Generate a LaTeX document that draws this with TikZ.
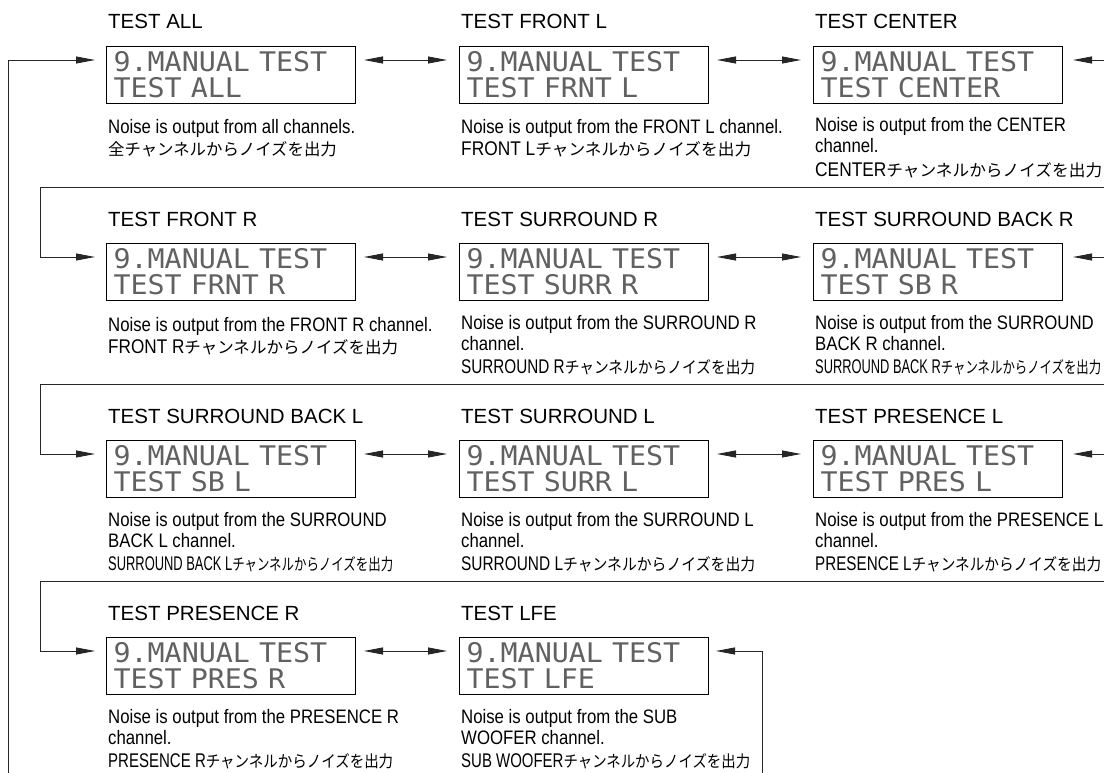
\documentclass[tikz,border=0pt]{standalone}
\usepackage{fontspec}
\usepackage{graphicx}
\setmainfont{Liberation Sans}
\newfontfamily\descfont[FakeStretch=0.86]{Liberation Sans}
\newfontfamily\lcdfont[FakeStretch=1.05]{DejaVu Sans Mono}
\newfontfamily\jpfont{Noto Sans CJK JP}
\usetikzlibrary{arrows.meta,calc}

\tikzset{
  lcdbox/.style={draw=black, line width=1pt, anchor=north west, minimum width=249pt,
    minimum height=57pt, inner xsep=7pt, inner ysep=0pt, align=left, text width=235pt,
    font=\fontsize{27}{26}\lcdfont, text=black!62},
  ttl/.style={anchor=base west, inner sep=0pt, font=\fontsize{20.5}{21}\selectfont},
  dsc/.style={anchor=base west, inner sep=0pt, font=\fontsize{19.5}{20}\descfont},
  jp/.style={anchor=base west, inner sep=0pt, font=\fontsize{16.4}{18}\jpfont},
  conn/.style={draw=black!85, line width=0.9pt},
  tip/.style={-{Triangle[length=19pt,width=7pt]}},
  dtip/.style={{Triangle[length=19pt,width=7pt]}-{Triangle[length=19pt,width=7pt]}},
}

\newcommand\lcdcell[5]{%
  \node[lcdbox] (#1) at (#2,#3) {9.MANUAL TEST\\#5};
  \node[ttl] (#1t) at ([xshift=2pt,yshift=17pt]#1.north west) {#4};
}
\newcommand\dscline[4]{%
  \node[dsc] (#1#2) at ([xshift=2pt,yshift=-#3pt]#1.south west) {#4};
}
\newcommand\jpline[5]{%
  \node[jp] (#1#2) at ([xshift=2pt,yshift=-#3pt]#1.south west)
    {\resizebox{#5pt}{\height}{{\fontsize{19.8}{20}\descfont #4}\jpfont チャンネルからノイズを出力}};
}

\begin{document}
\begin{tikzpicture}[x=1pt,y=-1pt]
\useasboundingbox (0,0) rectangle (1104,773);
\fill[white] (0,0) rectangle (1104,773);
\clip (0,0) rectangle (1104,773);

% Row 1
\lcdcell{b11}{106}{46}{TEST ALL}{TEST ALL}
\dscline{b11}{a}{30}{Noise is output from all channels.}
\node[jp] (b11b) at ([xshift=2pt,yshift=-52pt]b11.south west) {全チャンネルからノイズを出力};

\lcdcell{b12}{459}{46}{TEST FRONT L}{TEST FRNT L}
\dscline{b12}{a}{30}{Noise is output from the FRONT L channel.}
\jpline{b12}{b}{52}{FRONT L}{290}

\lcdcell{b13}{813}{46}{TEST CENTER}{TEST CENTER}
\dscline{b13}{a}{28}{Noise is output from the CENTER}
\dscline{b13}{b}{49}{channel.}
\jpline{b13}{c}{72}{CENTER}{287}

% Row 2
\lcdcell{b21}{106}{243}{TEST FRONT R}{TEST FRNT R}
\dscline{b21}{a}{30}{Noise is output from the FRONT R channel.}
\jpline{b21}{b}{52}{FRONT R}{290}

\lcdcell{b22}{459}{243}{TEST SURROUND R}{TEST SURR R}
\dscline{b22}{a}{28}{Noise is output from the SURROUND R}
\dscline{b22}{b}{49}{channel.}
\jpline{b22}{c}{72}{SURROUND R}{294}

\lcdcell{b23}{813}{243}{TEST SURROUND BACK R}{TEST SB R}
\dscline{b23}{a}{28}{Noise is output from the SURROUND}
\dscline{b23}{b}{49}{BACK R channel.}
\jpline{b23}{c}{72}{SURROUND BACK R}{286}

% Row 3
\lcdcell{b31}{106}{440}{TEST SURROUND BACK L}{TEST SB L}
\dscline{b31}{a}{28}{Noise is output from the SURROUND}
\dscline{b31}{b}{49}{BACK L channel.}
\jpline{b31}{c}{72}{SURROUND BACK L}{285}

\lcdcell{b32}{459}{440}{TEST SURROUND L}{TEST SURR L}
\dscline{b32}{a}{28}{Noise is output from the SURROUND L}
\dscline{b32}{b}{49}{channel.}
\jpline{b32}{c}{72}{SURROUND L}{294}

\lcdcell{b33}{813}{440}{TEST PRESENCE L}{TEST PRES L}
\dscline{b33}{a}{28}{Noise is output from the PRESENCE L}
\dscline{b33}{b}{49}{channel.}
\jpline{b33}{c}{72}{PRESENCE L}{286}

% Row 4
\lcdcell{b41}{106}{637}{TEST PRESENCE R}{TEST PRES R}
\dscline{b41}{a}{28}{Noise is output from the PRESENCE R}
\dscline{b41}{b}{49}{channel.}
\jpline{b41}{c}{72}{PRESENCE R}{285}

\lcdcell{b42}{459}{637}{TEST LFE}{TEST LFE}
\dscline{b42}{a}{28}{Noise is output from the SUB}
\dscline{b42}{b}{49}{WOOFER channel.}
\jpline{b42}{c}{72}{SUB WOOFER}{289}

% double arrows between neighbours
\foreach \l/\r in {b11/b12, b12/b13, b21/b22, b22/b23, b31/b32, b32/b33, b41/b42}{
  \draw[conn, dtip, shorten <=8pt, shorten >=12pt]
    ([yshift=-14pt]\l.north east) -- ([yshift=-14pt]\r.north west);
}

% arrows coming in from the right edge
\coordinate (e1) at (1104,60);
\coordinate (e2) at (1104,257);
\coordinate (e3) at (1104,454);
\draw[conn, tip, shorten >=10pt] (e1) -- ([yshift=-14pt]b13.north east);
\draw[conn, tip, shorten >=10pt] (e2) -- ([yshift=-14pt]b23.north east);
\draw[conn, tip, shorten >=10pt] (e3) -- ([yshift=-14pt]b33.north east);

% row separators leading to first box of next row
\coordinate (s2a) at (1104,187); \coordinate (s2b) at (40,187);
\coordinate (s3a) at (1104,384); \coordinate (s3b) at (40,384);
\coordinate (s4a) at (1104,581); \coordinate (s4b) at (40,581);
\draw[conn, tip, shorten >=11pt] (s2a) -- (s2b) |- ([yshift=-14pt]b21.north west);
\draw[conn, tip, shorten >=11pt] (s3a) -- (s3b) |- ([yshift=-14pt]b31.north west);
\draw[conn, tip, shorten >=11pt] (s4a) -- (s4b) |- ([yshift=-14pt]b41.north west);

% big return loop on the left
\coordinate (lb) at (8.5,773);
\draw[conn, tip, shorten >=11pt] (lb) |- ([yshift=-14pt]b11.north west);

% connector into TEST LFE from the right
\coordinate (rb) at (762,773);
\draw[conn, tip, shorten >=7pt] (rb) |- ([yshift=-14pt]b42.north east);
\end{tikzpicture}
\end{document}
